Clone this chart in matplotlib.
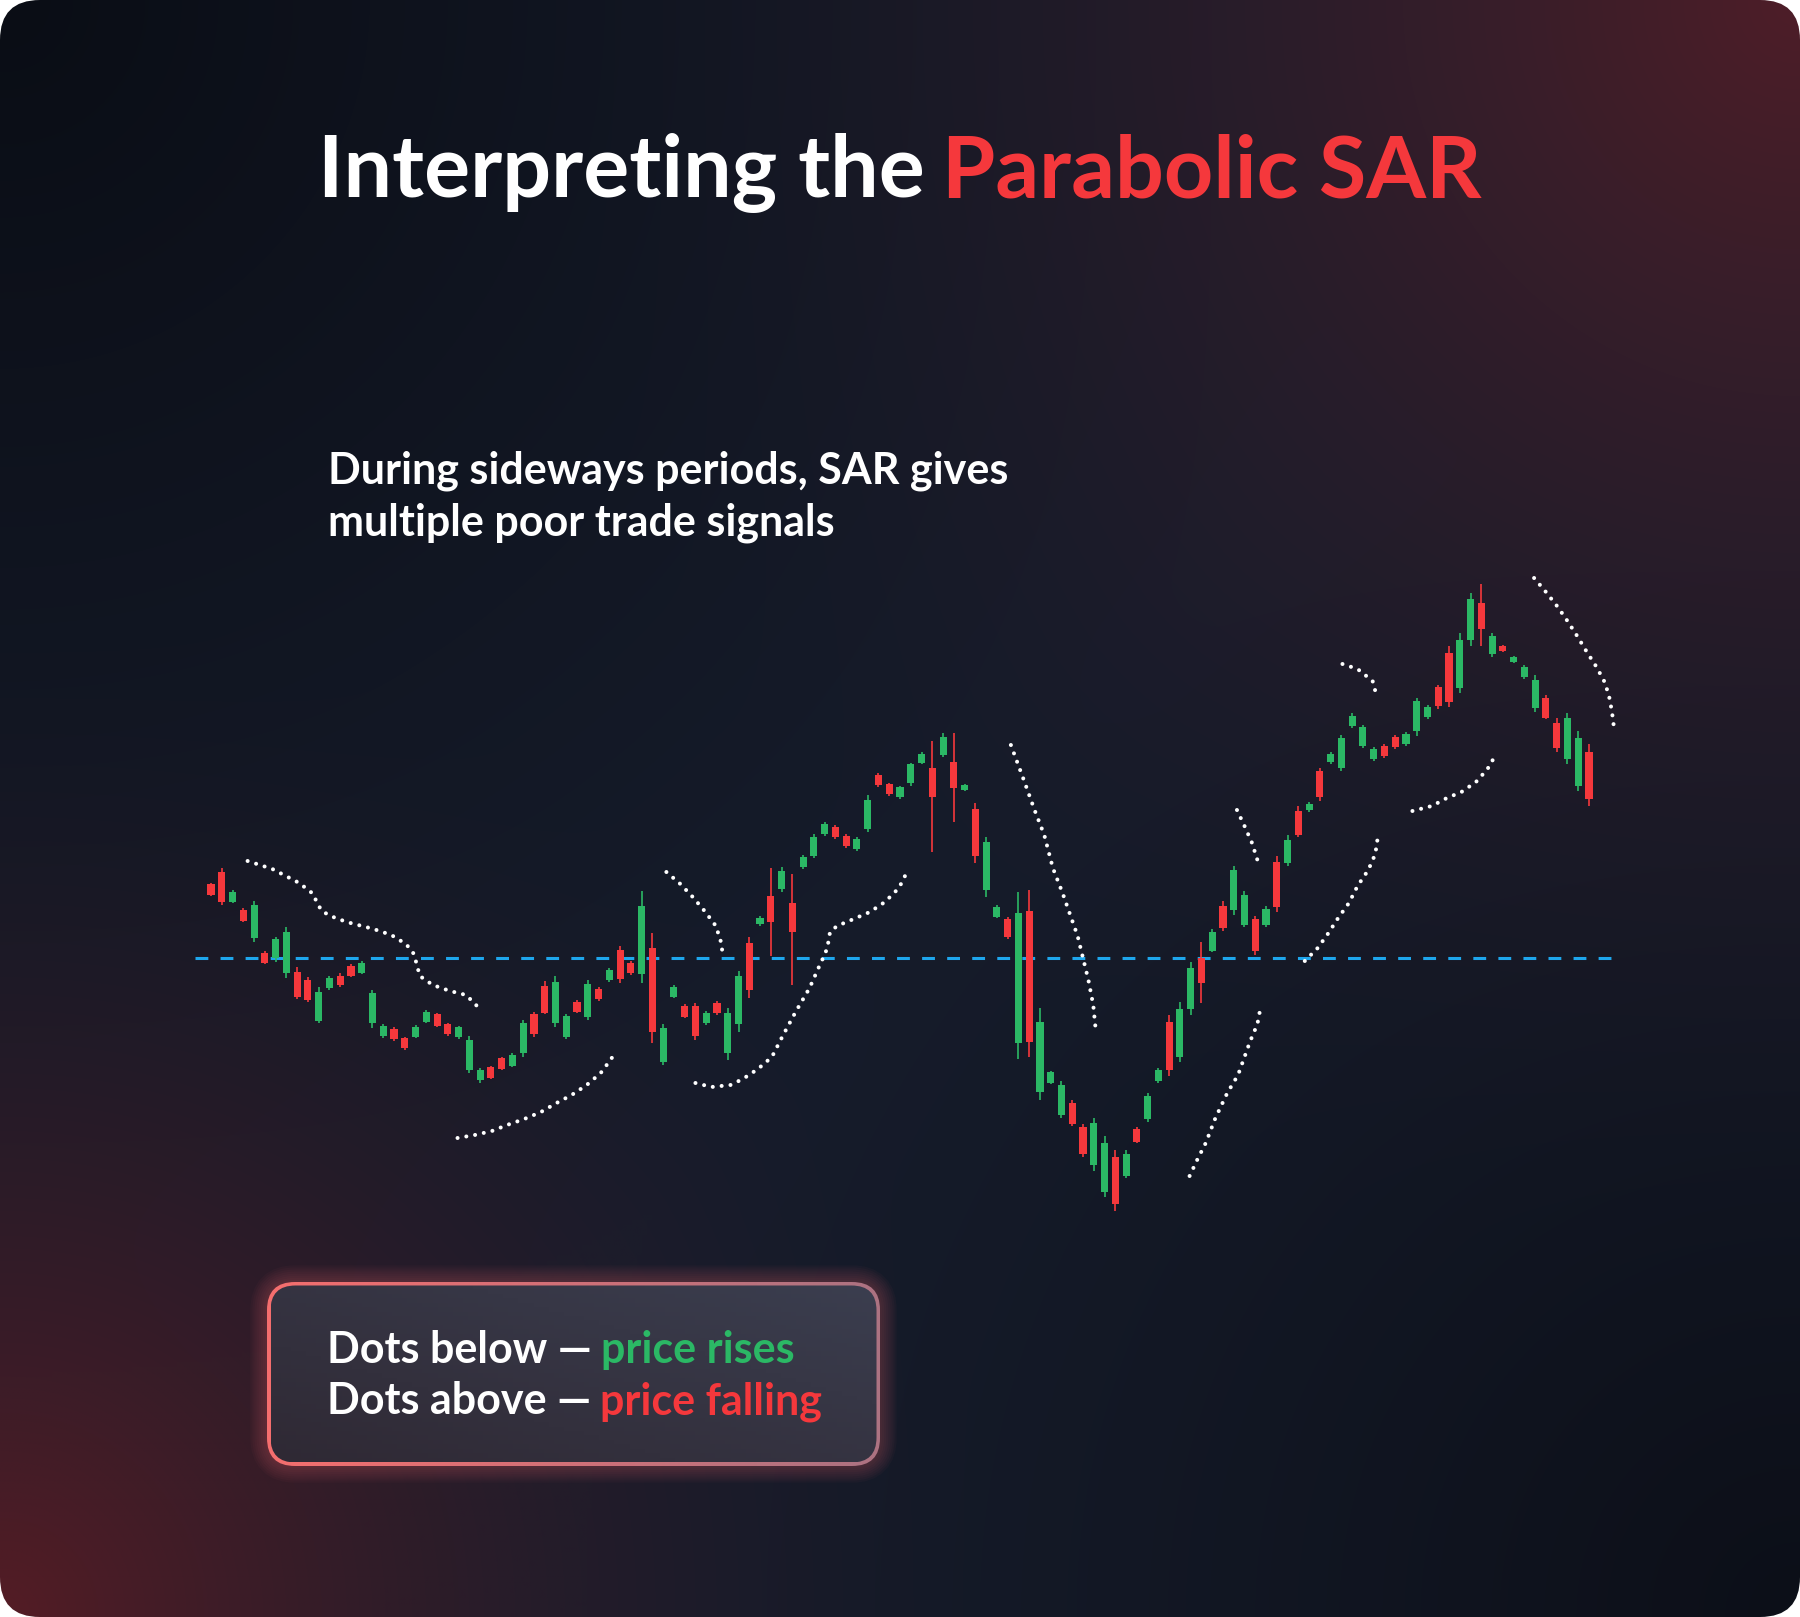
import numpy as np
import matplotlib.pyplot as plt
from matplotlib.patches import FancyBboxPatch

# ---- candle data, prices ----
opens = [107.4, 108.6, 105.6, 104.8, 102.0, 100.5, 100.0, 98.5, 98.6, 97.8,
         93.7, 97.0, 98.2, 99.2, 98.5, 93.5, 92.2, 92.9, 92.0, 92.1,
         93.6, 94.4, 93.4, 92.1, 88.8, 87.8, 89.1, 90.0, 89.2, 90.5,
         94.4, 97.2, 93.5, 92.1, 95.6, 94.1, 96.9, 97.8, 100.8, 99.5,
         98.4, 101.0, 89.6, 96.1, 95.2, 95.2, 93.5, 95.5, 90.5, 93.4,
         101.5, 103.4, 106.2, 106.9, 105.5, 109.1, 110.2, 112.4, 113.1, 112.2,
         110.9, 112.9, 118.3, 117.4, 116.1, 117.5, 119.5, 119.0, 120.3, 119.6,
         116.8, 114.9, 106.8, 104.1, 103.9, 91.5, 104.7, 86.6, 87.5, 84.3,
         85.5, 83.1, 79.3, 76.6, 80.1, 78.2, 82.9, 83.9, 87.7, 93.6,
         90.1, 94.9, 100.0, 100.7, 105.2, 104.8, 103.3, 103.9, 103.3, 109.6,
         109.5, 114.7, 114.8, 118.7, 119.6, 119.0, 123.2, 121.2, 119.9, 121.2,
         122.1, 121.4, 122.7, 124.1, 127.1, 130.5, 127.0, 131.8, 135.5, 130.4,
         131.2, 129.6, 128.1, 125.0, 126.0, 123.5, 119.9, 117.2, 120.6]
closes = [106.3, 105.6, 106.6, 103.7, 105.3, 99.5, 101.9, 102.6, 96.1, 95.8,
          96.6, 98.0, 97.3, 98.2, 99.5, 96.5, 93.2, 91.9, 91.0, 93.1,
          94.6, 93.2, 92.4, 93.1, 91.8, 88.8, 88.0, 88.9, 90.3, 93.5,
          92.4, 94.5, 97.6, 94.2, 94.6, 97.4, 95.9, 98.8, 97.9, 98.5,
          105.2, 92.6, 93.0, 97.1, 94.1, 92.2, 94.5, 94.5, 94.5, 98.2,
          96.8, 104.0, 103.6, 108.7, 102.6, 110.1, 112.1, 113.4, 112.1, 111.2,
          111.9, 115.8, 117.3, 116.4, 117.1, 119.4, 120.4, 116.1, 122.1, 117.0,
          117.3, 110.2, 111.6, 105.1, 102.1, 104.5, 91.6, 93.6, 88.6, 87.3,
          83.4, 80.4, 83.5, 81.5, 75.4, 80.4, 81.6, 86.2, 88.8, 88.8,
          94.9, 99.0, 97.5, 102.6, 103.0, 108.8, 106.3, 100.7, 104.9, 105.1,
          111.8, 112.3, 115.4, 116.1, 120.4, 122.0, 124.2, 123.1, 120.9, 120.2,
          121.1, 122.4, 125.7, 125.1, 125.2, 125.6, 131.8, 135.9, 132.9, 132.2,
          130.7, 130.1, 129.1, 127.8, 124.0, 121.0, 124.0, 122.0, 115.9]
highs = [107.5, 109.0, 106.8, 105.0, 105.7, 100.7, 102.1, 103.1, 99.1, 98.1,
         97.1, 98.2, 98.5, 99.4, 99.7, 96.8, 93.4, 93.1, 92.1, 93.3,
         94.8, 94.5, 93.5, 93.2, 92.2, 89.0, 89.2, 90.1, 90.5, 93.8,
         94.6, 97.7, 98.2, 94.4, 95.8, 97.8, 97.1, 99.0, 101.2, 99.7,
         106.7, 102.5, 93.4, 97.3, 95.4, 95.5, 94.7, 95.7, 95.0, 98.7,
         102.1, 104.2, 109.0, 109.1, 108.4, 110.3, 112.4, 113.6, 113.3, 112.4,
         112.1, 116.3, 118.5, 117.5, 117.2, 119.5, 120.6, 121.7, 122.5, 122.5,
         117.4, 115.5, 112.1, 105.3, 104.1, 106.6, 106.8, 95.0, 88.7, 87.7,
         85.8, 83.4, 84.0, 82.2, 80.8, 80.8, 83.1, 86.5, 89.0, 94.3,
         95.6, 99.6, 101.6, 102.9, 105.7, 109.2, 106.7, 104.2, 105.2, 110.2,
         112.3, 115.2, 115.6, 119.0, 120.6, 122.3, 124.5, 123.3, 121.1, 121.4,
         122.3, 122.6, 126.0, 125.3, 127.3, 131.2, 132.5, 136.5, 137.4, 132.5,
         131.3, 130.2, 129.3, 128.3, 126.3, 124.0, 124.5, 122.7, 121.4]
lows = [106.2, 105.3, 105.5, 103.6, 101.6, 99.4, 99.6, 98.0, 95.9, 95.6,
        93.5, 96.8, 97.1, 98.1, 98.4, 93.0, 92.0, 91.7, 90.8, 92.0,
        93.5, 93.1, 92.2, 91.9, 88.5, 87.5, 87.9, 88.8, 89.1, 90.1,
        92.1, 94.4, 93.1, 91.9, 94.5, 93.8, 95.7, 97.6, 97.5, 98.3,
        97.5, 91.5, 89.3, 96.0, 94.0, 91.8, 93.3, 94.3, 89.8, 92.6,
        96.0, 103.2, 100.2, 106.6, 97.3, 108.9, 110.0, 112.2, 111.9, 111.0,
        110.7, 112.6, 117.1, 116.2, 115.9, 117.2, 119.4, 110.6, 120.1, 113.6,
        116.7, 109.5, 106.1, 104.0, 101.9, 89.9, 90.1, 85.8, 87.4, 84.0,
        83.2, 80.1, 78.7, 76.1, 74.7, 78.0, 81.5, 83.6, 87.5, 88.2,
        89.6, 94.3, 95.5, 100.6, 102.7, 104.3, 103.1, 100.3, 103.1, 104.6,
        109.2, 112.1, 114.6, 115.7, 119.4, 118.7, 123.0, 121.0, 119.7, 120.0,
        120.9, 121.2, 122.2, 123.9, 124.9, 125.1, 126.5, 131.2, 131.2, 130.1,
        130.6, 129.5, 127.9, 124.6, 123.9, 120.6, 119.4, 116.7, 115.2]

level = 100.0  # dashed reference level

# Parabolic SAR dotted trails, (bar, price)
sar_1 = [(3.4, 109.7), (5.7, 108.9), (8.2, 107.5), (9.5, 106.4), (9.85, 105.5), (10.3, 104.7),
         (11.1, 104.2), (12.6, 103.6), (15.1, 102.9), (16.75, 102.3), (18.1, 101.4), (18.75, 100.6),
         (19.0, 99.8), (19.4, 98.2), (20.6, 97.3), (22.2, 96.7), (23.7, 96.3), (24.8, 95.1)]
sar_2 = [(22.9, 82.0), (24.5, 82.3), (26.1, 82.7), (27.5, 83.3), (29.1, 83.9), (30.65, 84.6),
         (32.1, 85.5), (33.5, 86.3), (34.9, 87.3), (36.2, 88.5), (37.1, 89.8), (37.6, 90.6)]
sar_3 = [(42.3, 108.6), (43.6, 107.4), (44.75, 106.1), (45.85, 104.7), (46.9, 103.2),
         (47.4, 101.5), (47.5, 100.6)]
sar_4 = [(45.0, 87.5), (46.5, 87.1), (48.25, 87.3), (49.4, 87.9), (50.8, 88.9), (52.1, 90.1),
         (53.15, 92.3), (54.3, 94.6), (55.6, 97.0), (56.55, 99.3), (56.9, 100.1), (57.25, 101.0),
         (57.5, 102.6), (58.15, 103.2), (59.7, 103.9), (61.2, 104.6), (62.6, 105.6), (63.9, 107.0),
         (64.65, 108.6)]
sar_5 = [(74.3, 121.3), (75.4, 118.1), (76.5, 114.8), (77.4, 112.3), (78.2, 109.0), (79.1, 106.5),
         (79.65, 104.8), (80.5, 102.2), (81.0, 100.0), (81.5, 97.8), (81.95, 95.3), (82.2, 92.6)]
sar_6 = [(90.9, 78.2), (91.6, 79.8), (92.4, 81.5), (93.3, 84.0), (94.4, 86.5), (95.4, 88.3),
         (96.5, 91.6), (97.2, 93.4), (97.5, 95.1)]
sar_7 = [(95.3, 114.8), (96.0, 113.2), (96.7, 111.5), (97.2, 109.8), (97.3, 109.0)]
sar_8 = [(101.6, 99.7), (102.8, 101.0), (103.8, 102.5), (104.7, 104.0), (105.7, 105.5),
         (106.5, 107.2), (107.5, 108.8), (108.15, 110.4), (108.4, 112.2)]
sar_9 = [(105.1, 129.4), (106.5, 128.9), (107.9, 127.7), (108.3, 126.1)]
sar_10 = [(111.6, 114.7), (113.4, 115.2), (114.8, 116.0), (116.15, 116.6), (117.5, 117.6),
          (118.5, 118.8), (119.0, 119.6), (119.2, 120.4)]
sar_11 = [(122.9, 138.0), (124.0, 136.6), (125.1, 135.1), (126.0, 133.7), (126.9, 132.2),
          (127.8, 130.6), (128.7, 129.1), (129.5, 127.5), (129.95, 125.8), (130.2, 124.1), (130.3, 123.2)]
sar_trails = [sar_1, sar_2, sar_3, sar_4, sar_5, sar_6, sar_7, sar_8, sar_9, sar_10, sar_11]

GREEN = '#2bb865'
RED = '#f5383c'
BLUE = '#1ea6ec'
FONT = ['Lato', 'DejaVu Sans']

W, H = 1800, 1617
fig = plt.figure(figsize=(W / 100, H / 100), dpi=100)
fig.patch.set_facecolor('white')

# background layer in pixel coordinates
bg = fig.add_axes([0, 0, 1, 1])
bg.set_xlim(0, W)
bg.set_ylim(H, 0)
bg.axis('off')

gy, gx = np.mgrid[0:1:320j, 0:1:360j]


def glow(cx, cy, r, p):
    d = np.hypot((gx - cx) * W / H, gy - cy)
    return np.clip(1 - d / r, 0, 1) ** p


def mix(img, col, w):
    col = np.array(col) / 255
    return img * (1 - w[..., None]) + col * w[..., None]


img = np.zeros(gx.shape + (3,)) + np.array([22, 28, 43]) / 255
img = mix(img, (10, 13, 21), glow(0, 0, 0.85, 1.3))
img = mix(img, (12, 15, 24), glow(1, 1, 0.75, 1.3))
img = mix(img, (78, 30, 40), glow(1, 0, 0.8, 1.9))
img = mix(img, (84, 28, 37), glow(0, 1, 0.62, 1.8))

frame = FancyBboxPatch((0, 0), W, H, boxstyle='round,pad=0,rounding_size=40',
                       facecolor='none', edgecolor='none')
bg.add_patch(frame)
im = bg.imshow(img, extent=(0, W, H, 0), aspect='auto', zorder=0, interpolation='bilinear')
im.set_clip_path(frame)

# legend box: glow, gradient border, gradient fill
bx, by, bw, bh = 267, 1282, 613, 184
for k in range(8):
    bg.add_patch(FancyBboxPatch((bx, by), bw, bh, boxstyle='round,pad=0,rounding_size=28',
                                facecolor='none', edgecolor='#e8606a', lw=3 + 3 * k,
                                alpha=0.035, zorder=1))
outer = FancyBboxPatch((bx, by), bw, bh, boxstyle='round,pad=0,rounding_size=28',
                       facecolor='none', edgecolor='none', zorder=2)
bg.add_patch(outer)
tx = np.linspace(0, 1, 200)[None, :] * np.ones((20, 1))
edge_img = mix(np.zeros(tx.shape + (3,)) + np.array([245, 110, 110]) / 255, (172, 115, 130), tx)
e = bg.imshow(edge_img, extent=(bx, bx + bw, by + bh, by), aspect='auto', zorder=2)
e.set_clip_path(outer)

t = 3.5
inner = FancyBboxPatch((bx + t, by + t), bw - 2 * t, bh - 2 * t,
                       boxstyle='round,pad=0,rounding_size=25', facecolor='none',
                       edgecolor='none', zorder=3)
bg.add_patch(inner)
fy, fx = np.mgrid[0:1:40j, 0:1:120j]
fw = np.clip((fx + (1 - fy)) / 2, 0, 1)
fill_img = mix(np.zeros(fx.shape + (3,)) + np.array([47, 41, 52]) / 255, (59, 62, 79), fw)
f = bg.imshow(fill_img, extent=(bx + t, bx + bw - t, by + bh - t, by + t), aspect='auto', zorder=3)
f.set_clip_path(inner)
bg.set_xlim(0, W)
bg.set_ylim(H, 0)

# ---- chart ----
ax = fig.add_axes([195 / W, 1 - 1230 / H, 1425 / W, 670 / H])
ax.set_xlim(-1.486, 130.88)
ax.set_ylim(72.8, 139.8)
ax.axis('off')
ax.patch.set_alpha(0)

o, c = np.array(opens), np.array(closes)
x = np.arange(len(o))
cols = np.where(c >= o, GREEN, RED)
ax.axhline(level, color=BLUE, lw=2.2, dashes=(4.2, 4.0), zorder=1)
ax.vlines(x, lows, highs, colors=cols, lw=1.2, zorder=2)
ax.bar(x, np.abs(c - o), bottom=np.minimum(o, c), width=0.66, color=cols, lw=0, zorder=3)
for trail in sar_trails:
    xs, ys = zip(*trail)
    ax.plot(xs, ys, color='white', lw=2.9, linestyle=(0, (0.01, 2.2)),
            dash_capstyle='round', zorder=4)

# ---- texts ----
r = fig.canvas.get_renderer()


def write(parts, x0, y0, size, weight, center=False):
    gap = size * 100 / 72 * 0.2
    xx = x0
    arts = []
    for s, col in parts:
        a = bg.text(xx, y0, s, color=col, fontsize=size, fontweight=weight, family=FONT,
                    va='baseline', ha='left', zorder=5)
        xx += a.get_window_extent(r).width + gap
        arts.append(a)
    if center:
        shift = x0 - (x0 + xx - gap) / 2
        for a in arts:
            a.set_x(a.get_position()[0] + shift)


write([("Interpreting the", 'white'), ("Parabolic SAR", RED)], 900, 197, 62, 'bold', center=True)
write([("During sideways periods, SAR gives", 'white')], 328, 483, 31, 'bold')
write([("multiple poor trade signals", 'white')], 328, 535, 31, 'bold')
write([("Dots below —", 'white'), ("price rises", GREEN)], 327, 1363, 31, 'bold')
write([("Dots above —", 'white'), ("price falling", RED)], 327, 1414, 31, 'bold')

fig.savefig('out.png', dpi=100, facecolor='white')
